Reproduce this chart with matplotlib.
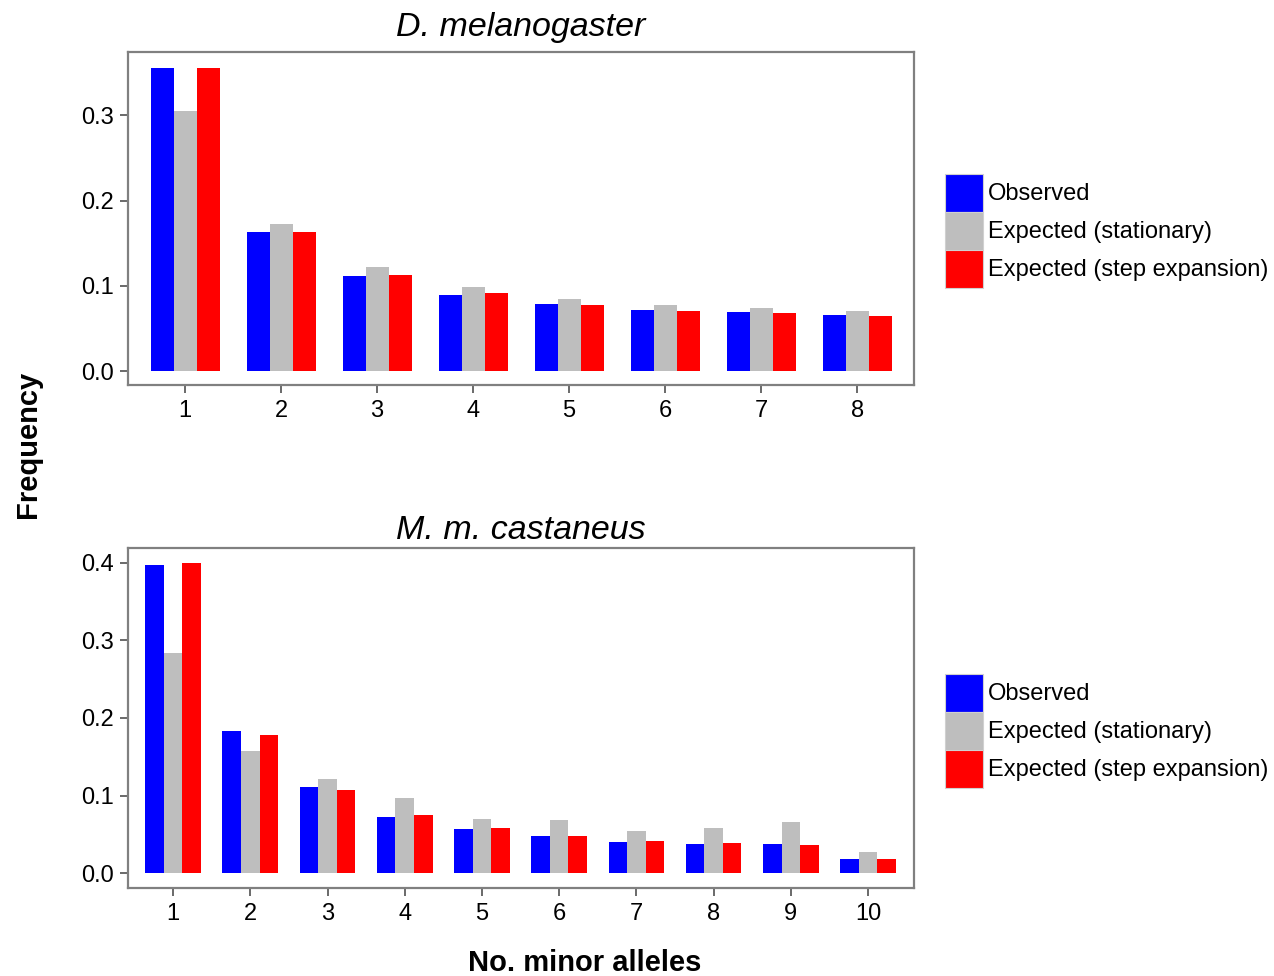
import matplotlib
matplotlib.use("Agg")
import matplotlib.pyplot as plt
import numpy as np
from matplotlib.patches import Patch

plt.rcParams['font.family'] = ['Liberation Sans', 'DejaVu Sans']

# data
dm_classes = [1, 2, 3, 4, 5, 6, 7, 8]
dm_observed = [0.356, 0.163, 0.111, 0.089, 0.079, 0.072, 0.069, 0.066]
dm_stationary = [0.305, 0.172, 0.122, 0.099, 0.084, 0.077, 0.074, 0.070]
dm_expansion = [0.356, 0.163, 0.113, 0.091, 0.077, 0.070, 0.068, 0.065]

mm_classes = [1, 2, 3, 4, 5, 6, 7, 8, 9, 10]
mm_observed = [0.397, 0.183, 0.111, 0.072, 0.057, 0.048, 0.040, 0.038, 0.038, 0.018]
mm_stationary = [0.284, 0.158, 0.121, 0.097, 0.070, 0.068, 0.055, 0.058, 0.066, 0.027]
mm_expansion = [0.400, 0.178, 0.107, 0.075, 0.058, 0.048, 0.042, 0.039, 0.036, 0.018]

labels = ["Observed", "Expected (stationary)", "Expected (step expansion)"]
colors = ["#0000ff", "#bebebe", "#ff0000"]
frame = "#808080"

fig = plt.figure(figsize=(12.74, 9.76), dpi=100)
ax1 = fig.add_axes([0.1005, 0.6055, 0.617, 0.341])
ax2 = fig.add_axes([0.1005, 0.0902, 0.617, 0.348])

def draw_panel(ax, classes, series, title, xlim, ylim, yticks, tpad):
    x = np.array(classes, dtype=float)
    w = 0.24
    for i, vals in enumerate(series):
        ax.bar(x + (i - 1) * w, vals, width=w, color=colors[i], linewidth=0)
    ax.set_xlim(*xlim)
    ax.set_ylim(*ylim)
    ax.set_xticks(classes)
    ax.set_yticks(yticks)
    ax.set_yticklabels(["%.1f" % t for t in yticks])
    for s in ax.spines.values():
        s.set_color(frame)
        s.set_linewidth(1.6)
    ax.tick_params(direction='out', length=6, width=1.2, color='#505050',
                   labelsize=17, labelcolor='black')
    ax.tick_params(axis='x', pad=5)
    ax.tick_params(axis='y', pad=4)
    ax.set_title(title, fontsize=24.5, style='italic', pad=tpad)

draw_panel(ax1, dm_classes, [dm_observed, dm_stationary, dm_expansion],
           "D. melanogaster", (0.406, 8.594), (-0.0164, 0.374), [0.0, 0.1, 0.2, 0.3], 12)
draw_panel(ax2, mm_classes, [mm_observed, mm_stationary, mm_expansion],
           "M. m. castaneus", (0.417, 10.596), (-0.019, 0.4184), [0.0, 0.1, 0.2, 0.3, 0.4], 6.5)

handles = [Patch(facecolor=c, edgecolor='#d0d0d0', linewidth=0.8) for c in colors]
for ytop in [174, 674]:
    fig.legend(handles, labels, loc='upper left',
               bbox_to_anchor=(945 / 1274, 1 - ytop / 976),
               frameon=False, fontsize=17, borderpad=0, borderaxespad=0,
               handlelength=1.62, handleheight=2.1, labelspacing=0.0,
               handletextpad=0.2)

fig.text(0.022, 0.545, "Frequency", rotation=90, fontsize=21, fontweight='bold',
         ha='center', va='center')
fig.text(0.459, 0.013, "No. minor alleles", fontsize=21, fontweight='bold',
         ha='center', va='center')

fig.savefig("out.png", dpi=100)
